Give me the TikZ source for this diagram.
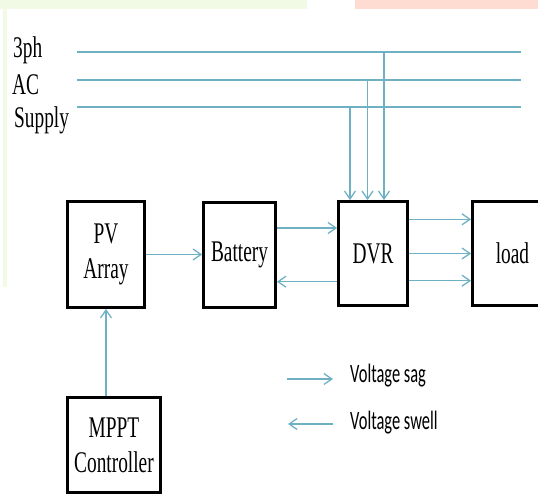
\documentclass[tikz,border=0pt]{standalone}
\usepackage{fontspec}
\setmainfont{Liberation Serif}[FakeStretch=0.645]
\newfontfamily\legendfont{Carlito}[FakeStretch=0.62]
\usetikzlibrary{arrows.meta}
\definecolor{wire}{RGB}{110,176,196}
\definecolor{bggreen}{RGB}{240,250,228}
\definecolor{bgpink}{RGB}{254,220,210}
\tikzset{
 blockbox/.style={draw=black, line width=2.8pt, rectangle, inner sep=0pt, align=center, font=\fontsize{30}{35}\selectfont},
 wireline/.style={draw=wire, line width=1.3pt},
 arr/.style={wireline, -{Straight Barb[length=8pt,width=11pt]}},
 lbl/.style={anchor=base west, inner sep=0pt, font=\fontsize{30}{34}\selectfont},
 legendtext/.style={anchor=base west, inner sep=0pt, font=\legendfont\fontsize{26.5}{30}\selectfont},
}
\begin{document}
\begin{tikzpicture}[x=1pt,y=-1pt]
\useasboundingbox (0,0) rectangle (538,495);
\clip (0,0) rectangle (538,495);
\fill[bggreen] (0,0) rectangle (307,8.6);
\fill[bggreen] (3,0) rectangle (7,287);
\fill[bgpink] (355,0) rectangle (538,9);

% supply labels
\node[lbl] (l3ph) at (13,58) {3ph};
\node[lbl] (lac) at (12,95) {AC};
\node[lbl] (lsup) at (14,127) {Supply};

% bus lines
\coordinate (b1w) at (77,52);  \coordinate (b1e) at (521,52);
\coordinate (b2w) at (77,80);  \coordinate (b2e) at (521,80);
\coordinate (b3w) at (77,107); \coordinate (b3e) at (521,107);
\draw[wireline] (b1w) -- (b1e);
\draw[wireline] (b2w) -- (b2e);
\draw[wireline] (b3w) -- (b3e);
\coordinate (t1) at (384,52);
\coordinate (t2) at (367.5,80);
\coordinate (t3) at (350,107);

% blocks
\node[blockbox, minimum width=77pt, minimum height=106pt] (pv) at (106,254.5) {PV\\Array};
\node[blockbox, minimum width=72pt, minimum height=105pt] (batt) at (239.5,255) {Battery};
\node[blockbox, minimum width=69pt, minimum height=104pt] (dvr) at (373,253.5) {DVR};
\node[blockbox, minimum width=80pt, minimum height=104pt] (load) at (512.5,253.5) {load};
\node[blockbox, minimum width=93pt, minimum height=95pt] (mppt) at (114,445) {MPPT\\Controller};

% taps to DVR
\draw[arr] (t1) -- (t1 |- dvr.north);
\draw[arr] (t2) -- (t2 |- dvr.north);
\draw[arr] (t3) -- (t3 |- dvr.north);

% connectors
\draw[arr] (pv.east) -- (pv.east -| batt.west);
\draw[arr] ([yshift=27pt]batt.east) -- ([yshift=27pt]batt.east -| dvr.west);
\draw[arr] ([yshift=-28.2pt]dvr.west) -- ([yshift=-28.2pt]dvr.west -| batt.east);
\draw[arr] ([yshift=34.2pt]dvr.east) -- ([yshift=34.2pt]dvr.east -| load.west);
\draw[arr] (dvr.east) -- (dvr.east -| load.west);
\draw[arr] ([yshift=-27.2pt]dvr.east) -- ([yshift=-27.2pt]dvr.east -| load.west);
\draw[arr] (mppt.north -| pv.south) -- (pv.south);

% legend
\coordinate (sagA) at (287,379); \coordinate (sagB) at (333,379);
\coordinate (swA) at (333,424);  \coordinate (swB) at (288,424);
\draw[arr] (sagA) -- (sagB);
\draw[arr] (swA) -- (swB);
\node[legendtext] (sag) at (350,382) {Voltage sag};
\node[legendtext] (swell) at (350,429) {Voltage swell};
\end{tikzpicture}
\end{document}
